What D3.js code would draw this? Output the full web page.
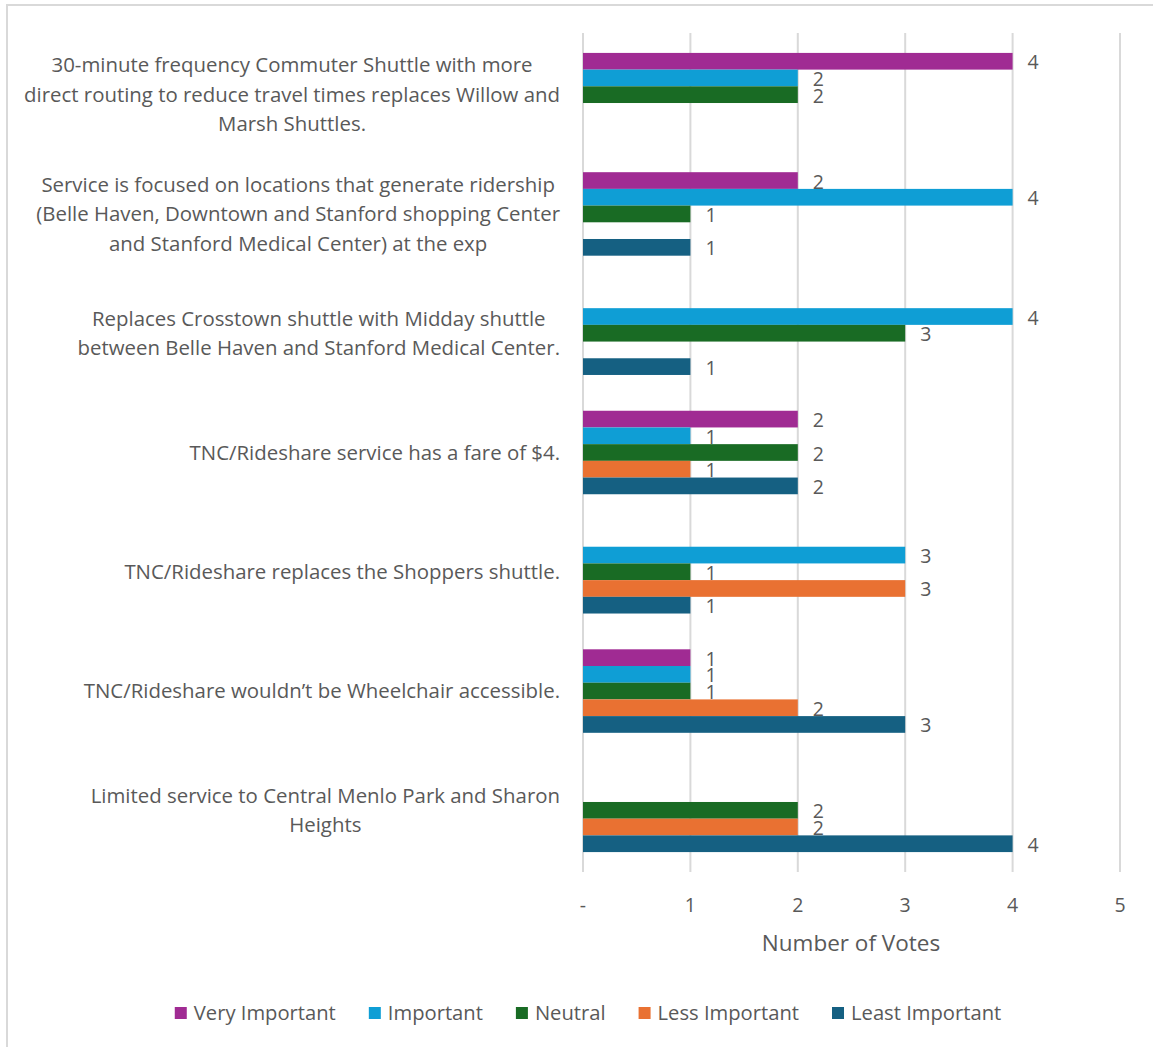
<!DOCTYPE html>
<html>
<head>
<meta charset="utf-8">
<script src="https://cdn.jsdelivr.net/npm/d3@7"></script>
<style>
  html, body { margin: 0; padding: 0; background: #ffffff; }
  svg { display: block; }
  text { font-family: "Open Sans", Lato, sans-serif; fill: #595959; }
</style>
</head>
<body>
<svg id="chart" width="1153" height="1047"></svg>
<script>
// ---- Data ----
const categories = [
  ["30-minute frequency Commuter Shuttle with more", "direct routing to reduce travel times replaces Willow and", "Marsh Shuttles."],
  ["Service is focused on locations that generate ridership", "(Belle Haven, Downtown and Stanford shopping Center", "and Stanford Medical Center) at the exp"],
  ["Replaces Crosstown shuttle with Midday shuttle", "between Belle Haven and Stanford Medical Center."],
  ["TNC/Rideshare service has a fare of $4."],
  ["TNC/Rideshare replaces the Shoppers shuttle."],
  ["TNC/Rideshare wouldn\u2019t be Wheelchair accessible."],
  ["Limited service to Central Menlo Park and Sharon", "Heights"]
];
const seriesNames = ["Very Important", "Important", "Neutral", "Less Important", "Least Important"];
const seriesColors = ["#A02B93", "#0F9ED5", "#196B24", "#E97132", "#156082"];
const veryImportant  = [4, 2, 0, 2, 0, 1, 0];
const important      = [2, 4, 4, 1, 3, 1, 0];
const neutral        = [2, 1, 3, 2, 1, 1, 2];
const lessImportant  = [0, 0, 0, 1, 3, 2, 2];
const leastImportant = [0, 1, 1, 2, 1, 3, 4];
const seriesValues = [veryImportant, important, neutral, lessImportant, leastImportant];
const xTicks = [0, 1, 2, 3, 4, 5];
const xTickLabels = ["-", "1", "2", "3", "4", "5"];
const axisTitle = "Number of Votes";

// ---- Layout ----
const svg = d3.select("#chart");
const plot = { left: 583, right: 1120, top: 33, bottom: 872 };

// outer border
svg.append("rect")
  .attr("x", 7).attr("y", 5).attr("width", 1160).attr("height", 1060)
  .attr("fill", "none").attr("stroke", "#d9d9d9").attr("stroke-width", 2);

const x = d3.scaleLinear().domain([0, 5]).range([plot.left, plot.right]);
const catIdx = categories.map((d, i) => i);
const y = d3.scaleBand().domain(catIdx).range([plot.top, plot.bottom])
  .paddingInner(0.3).paddingOuter(0.167);
const ySub = d3.scaleBand().domain(seriesNames).range([0, y.bandwidth()]).padding(0);

// gridlines
svg.append("g").selectAll("line").data(xTicks).join("line")
  .attr("x1", d => x(d)).attr("x2", d => x(d))
  .attr("y1", plot.top).attr("y2", plot.bottom)
  .attr("stroke", "#d9d9d9").attr("stroke-width", 2);

// bars
const rows = [];
categories.forEach((c, ci) => {
  seriesNames.forEach((s, si) => {
    rows.push({ ci, si, s, v: seriesValues[si][ci] });
  });
});
const nonZero = rows.filter(r => r.v > 0);

svg.append("g").selectAll("rect").data(nonZero).join("rect")
  .attr("x", x(0))
  .attr("y", d => y(d.ci) + ySub(d.s))
  .attr("width", d => x(d.v) - x(0))
  .attr("height", ySub.bandwidth())
  .attr("fill", d => seriesColors[d.si]);

// value labels
svg.append("g").selectAll("text").data(nonZero).join("text")
  .attr("x", d => x(d.v) + 15)
  .attr("y", d => y(d.ci) + ySub(d.s) + ySub.bandwidth() / 2 + 1)
  .attr("dy", "0.36em")
  .attr("font-size", 19.5)
  .text(d => d.v);

// category labels
const labelRight = 560;
const lineH = 29.5;
const catG = svg.append("g");
categories.forEach((lines, ci) => {
  const g = catG.append("g");
  const cy = y(ci) + y.bandwidth() / 2;
  const texts = lines.map((ln, li) => g.append("text")
    .attr("y", cy + (li - (lines.length - 1) / 2) * lineH)
    .attr("dy", "0.35em")
    .attr("font-size", 20.4)
    .attr("text-anchor", "middle")
    .text(ln));
  const maxW = d3.max(texts, t => t.node().getComputedTextLength());
  texts.forEach(t => t.attr("x", labelRight - maxW / 2));
});

// x axis tick labels
svg.append("g").selectAll("text").data(xTicks).join("text")
  .attr("x", d => x(d))
  .attr("y", 905)
  .attr("dy", "0.35em")
  .attr("text-anchor", "middle")
  .attr("font-size", 19.5)
  .text((d, i) => xTickLabels[i]);

// axis title
svg.append("text")
  .attr("x", 851)
  .attr("y", 943)
  .attr("dy", "0.35em")
  .attr("text-anchor", "middle")
  .attr("font-size", 22.5)
  .text(axisTitle);

// legend
const legend = svg.append("g");
const items = seriesNames.map((s, i) => {
  const g = legend.append("g");
  g.append("rect").attr("width", 12).attr("height", 12).attr("y", -6)
    .attr("fill", seriesColors[i]);
  const t = g.append("text").attr("x", 19).attr("dy", "0.35em")
    .attr("font-size", 20.2).text(s);
  return { g, w: 19 + t.node().getComputedTextLength() };
});
const gap = 33;
const total = d3.sum(items, d => d.w) + gap * (items.length - 1);
let lx = 588 - total / 2;
items.forEach(it => {
  it.g.attr("transform", `translate(${lx},1013)`);
  lx += it.w + gap;
});
</script>
</body>
</html>
